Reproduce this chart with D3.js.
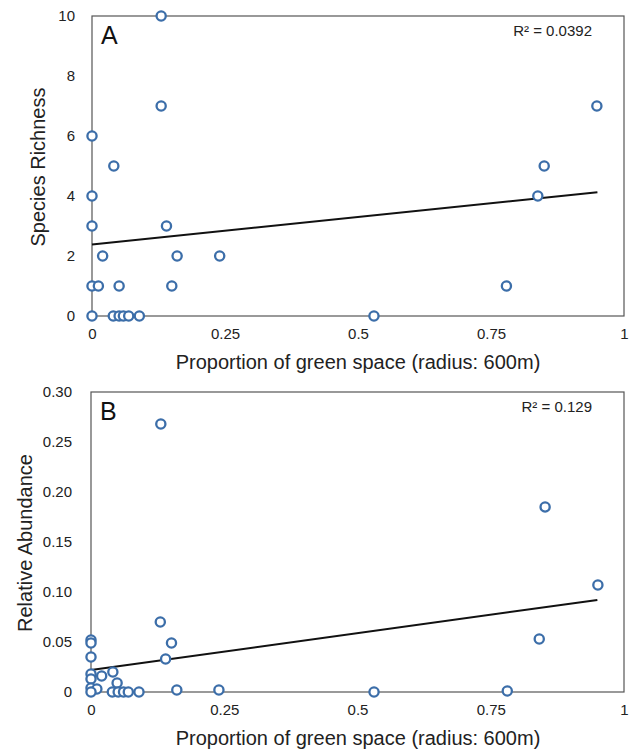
<!DOCTYPE html>
<html lang="en">
  <head>
    <title>Green space vs richness and abundance</title>
    <script src="https://d3js.org/d3.v7.min.js"></script>
    <style>
      body {
        margin: 0;
        background-color: #fff;
        font-family: "Liberation Sans", Helvetica, Arial, sans-serif;
      }
      .frame {
        fill: none;
        stroke: #555;
        stroke-width: 1.2px;
      }
      .tick text {
        font-size: 15px;
        fill: #222;
      }
      .pt {
        fill: #fff;
        stroke: #3c6ea9;
        stroke-width: 2.3px;
      }
      .fit {
        stroke: #111;
        stroke-width: 2px;
      }
    </style>
  </head>
  <body>
    <div id="chart"></div>
    <script>
      // panel A: species richness
      const richnessX = [0.13, 0.13, 0, 0.041, 0, 0, 0.14, 0.02, 0.16, 0.24,
        0, 0.012, 0.051, 0.15, 0, 0.04, 0.051, 0.059, 0.069, 0.089,
        0.949, 0.85, 0.838, 0.779, 0.53];
      const richnessY = [10, 7, 6, 5, 4, 3, 3, 2, 2, 2,
        1, 1, 1, 1, 0, 0, 0, 0, 0, 0,
        7, 5, 4, 1, 0];
      const richnessFit = { intercept: 2.38, slope: 1.84, xEnd: 0.95 };
      const richnessTicks = [0, 2, 4, 6, 8, 10];

      // panel B: relative abundance
      const abundanceX = [0.131, 0.13, 0.151, 0.14, 0, 0, 0, 0, 0, 0.02,
        0.041, 0.049, 0, 0.011, 0, 0.04, 0.051, 0.061, 0.07, 0.09,
        0.161, 0.24, 0.852, 0.951, 0.841, 0.531, 0.781];
      const abundanceY = [0.268, 0.07, 0.049, 0.033, 0.052, 0.049, 0.035, 0.018, 0.013, 0.016,
        0.02, 0.009, 0.004, 0.003, 0, 0, 0, 0, 0, 0,
        0.002, 0.002, 0.185, 0.107, 0.053, 0, 0.001];
      const abundanceFit = { intercept: 0.022, slope: 0.0737, xEnd: 0.95 };
      const abundanceTicks = [0, 0.05, 0.1, 0.15, 0.2, 0.25, 0.3];

      const xTicks = [0, 0.25, 0.5, 0.75, 1];
      const xTitle = "Proportion of green space (radius: 600m)";

      const width = 632;
      const height = 751;
      const svg = d3
        .select("#chart")
        .append("svg")
        .attr("width", width)
        .attr("height", height);

      function panel(opts) {
        const x = d3.scaleLinear().domain([0, 1]).range([opts.left, 624]);
        const y = d3
          .scaleLinear()
          .domain([0, opts.yMax])
          .range([opts.bottom, opts.top]);
        const g = svg.append("g");

        // axes (labels only, no tick marks)
        g.append("g")
          .attr("transform", `translate(0,${opts.bottom})`)
          .call(
            d3.axisBottom(x).tickValues(xTicks).tickSize(0).tickPadding(12)
              .tickFormat(d3.format(""))
          )
          .call((a) => a.select(".domain").remove());
        g.append("g")
          .attr("transform", `translate(${opts.left},0)`)
          .call(
            d3.axisLeft(y).tickValues(opts.ticks).tickSize(0)
              .tickPadding(opts.pad).tickFormat(opts.fmt)
          )
          .call((a) => a.select(".domain").remove());

        g.append("rect")
          .attr("class", "frame")
          .attr("x", opts.left)
          .attr("y", opts.top)
          .attr("width", 624 - opts.left)
          .attr("height", opts.bottom - opts.top);

        // regression line
        g.append("line")
          .attr("class", "fit")
          .attr("x1", x(0))
          .attr("y1", y(opts.fit.intercept))
          .attr("x2", x(opts.fit.xEnd))
          .attr("y2", y(opts.fit.intercept + opts.fit.slope * opts.fit.xEnd));

        g.selectAll("circle")
          .data(opts.xs.map((v, i) => [v, opts.ys[i]]))
          .enter()
          .append("circle")
          .attr("class", "pt")
          .attr("cx", (d) => x(d[0]))
          .attr("cy", (d) => y(d[1]))
          .attr("r", 4.6);

        g.append("text")
          .attr("x", opts.left + 9)
          .attr("y", opts.top + 28)
          .attr("font-size", 25)
          .attr("fill", "#111")
          .text(opts.letter);

        g.append("text")
          .attr("x", 592)
          .attr("y", opts.top + 20)
          .attr("text-anchor", "end")
          .attr("font-size", 15)
          .attr("fill", "#222")
          .text(opts.r2);

        g.append("text")
          .attr("x", 358)
          .attr("y", opts.bottom + 53)
          .attr("text-anchor", "middle")
          .attr("font-size", 20)
          .attr("fill", "#222")
          .text(xTitle);

        g.append("text")
          .attr("transform", `translate(${opts.yTitleX},${opts.yTitleY}) rotate(-90)`)
          .attr("text-anchor", "middle")
          .attr("font-size", 20)
          .attr("fill", "#222")
          .text(opts.yTitle);
      }

      panel({
        left: 92, top: 16, bottom: 316, yMax: 10,
        ticks: richnessTicks, fmt: d3.format("d"), pad: 17,
        xs: richnessX, ys: richnessY, fit: richnessFit,
        letter: "A", r2: "R² = 0.0392",
        yTitle: "Species Richness", yTitleX: 45, yTitleY: 167,
      });

      panel({
        left: 91, top: 392, bottom: 692, yMax: 0.3,
        ticks: abundanceTicks, fmt: (d) => (d === 0 ? "0" : d3.format(".2f")(d)), pad: 19,
        xs: abundanceX, ys: abundanceY, fit: abundanceFit,
        letter: "B", r2: "R² = 0.129",
        yTitle: "Relative Abundance", yTitleX: 32, yTitleY: 543,
      });
    </script>
  </body>
</html>
